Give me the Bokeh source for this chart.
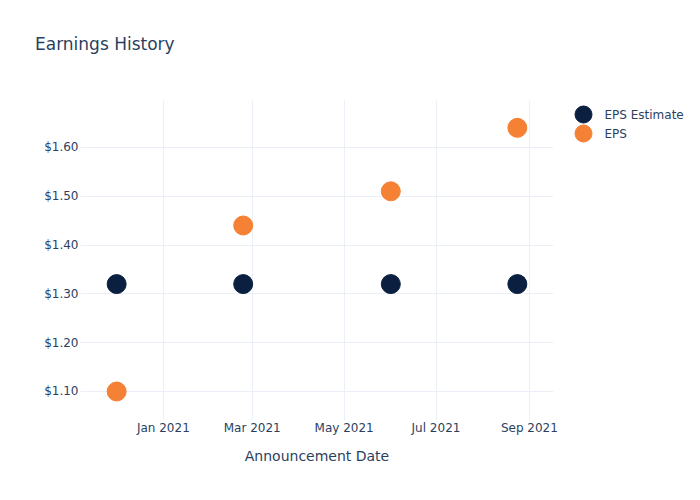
from datetime import datetime
from bokeh.plotting import figure
from bokeh.layouts import row, column
from bokeh.models import (Range1d, NumeralTickFormatter, DatetimeTickFormatter, MonthsTicker,
                          FixedTicker, Div)
from bokeh.core.properties import value
from bokeh.embed import file_html
from bokeh.resources import INLINE

title_text = "Earnings History"
x_label = "Announcement Date"
dates = [datetime(2020, 12, 1), datetime(2021, 2, 23), datetime(2021, 6, 1), datetime(2021, 8, 24)]
eps_estimate = [1.32, 1.32, 1.32, 1.32]
eps_actual = [1.10, 1.44, 1.51, 1.64]
y_ticks = [1.1, 1.2, 1.3, 1.4, 1.5, 1.6]
series_names = ["EPS Estimate", "EPS"]
series_colors = ["#0b1f41", "#f58134"]

FONT = "DejaVu Sans"
TXT = "#2a3f5f"
GRID = "#ebf0f8"

title = Div(text=title_text, width=700, height=60, margin=0,
            styles={"font-family": FONT, "font-size": "17px", "color": TXT,
                    "line-height": "17px", "padding-left": "35px", "padding-top": "36px",
                    "box-sizing": "border-box"})

p = figure(width=560, height=440, output_backend="svg", toolbar_location=None,
           x_axis_type="datetime",
           x_range=Range1d(datetime(2020, 11, 7), datetime(2021, 9, 17)),
           y_range=Range1d(1.0406, 1.696),
           min_border_left=80, min_border_right=7, min_border_top=40, min_border_bottom=80)
p.outline_line_color = None
p.background_fill_color = "white"

p.scatter(dates, eps_estimate, size=19, color=series_colors[0], line_color=series_colors[0])
p.scatter(dates, eps_actual, size=19, color=series_colors[1], line_color=series_colors[1])

p.xaxis.ticker = MonthsTicker(months=[0, 2, 4, 6, 8, 10])
p.xaxis.formatter = DatetimeTickFormatter(months="%b %Y", days="%b %Y")
p.yaxis.ticker = FixedTicker(ticks=y_ticks)
p.yaxis.formatter = NumeralTickFormatter(format="$0.00")

for ax in (p.xaxis[0], p.yaxis[0]):
    ax.axis_line_color = None
    ax.major_tick_line_color = None
    ax.minor_tick_line_color = None
    ax.major_tick_out = 0
    ax.major_tick_in = 0
    ax.minor_tick_out = 0
    ax.minor_tick_in = 0
    ax.major_label_text_font = FONT
    ax.major_label_text_font_size = "12px"
    ax.major_label_text_color = TXT
    ax.major_label_standoff = 2
p.xaxis.major_label_standoff = 0

p.xaxis.axis_label = x_label
p.xaxis.axis_label_text_font = FONT
p.xaxis.axis_label_text_font_size = "14px"
p.xaxis.axis_label_text_font_style = "normal"
p.xaxis.axis_label_text_color = TXT
p.xaxis.axis_label_standoff = 10

p.xgrid.grid_line_color = GRID
p.ygrid.grid_line_color = GRID
p.xgrid.ticker = p.xaxis.ticker
p.ygrid.ticker = p.yaxis.ticker

# legend panel (right side), items placed by their index through the panel's scales
idx = list(range(len(series_names)))
leg = figure(width=140, height=440, output_backend="svg", toolbar_location=None,
             x_range=Range1d(-23, 117), y_range=Range1d(16.105, -0.737),
             x_axis_location=None, y_axis_location=None,
             min_border_left=0, min_border_right=0, min_border_top=40, min_border_bottom=80)
leg.outline_line_color = None
leg.xgrid.visible = False
leg.ygrid.visible = False
leg.scatter(x=[0] * len(idx), y=idx, size=17, color=series_colors, line_color=series_colors)
leg.text(x=[0] * len(idx), y=idx, text=series_names, x_offset=21,
         text_baseline="middle", text_align="left", text_font_size="12px",
         text_color=TXT, text_font=value(FONT))

layout = column(title, row(p, leg, spacing=0), spacing=0)
open("out.html", "w").write(file_html(layout, INLINE))
